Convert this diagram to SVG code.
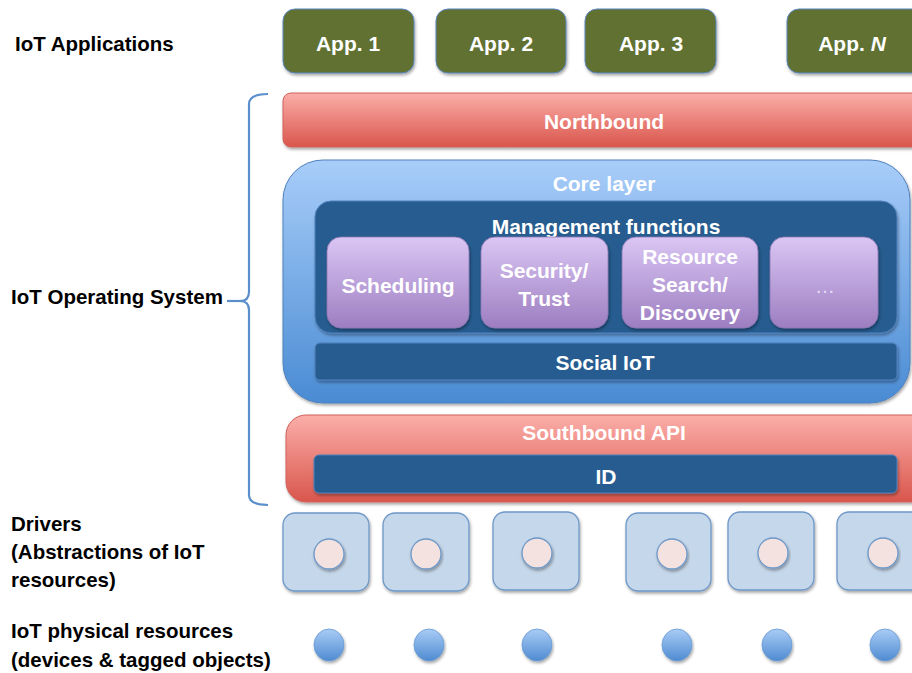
<svg xmlns="http://www.w3.org/2000/svg" width="912" height="673" viewBox="0 0 912 673">
<defs>
<linearGradient id="gRed" x1="0" y1="0" x2="0" y2="1"><stop offset="0" stop-color="#FBAEA9"/><stop offset="1" stop-color="#D9564C"/></linearGradient>
<linearGradient id="gCore" x1="0" y1="0" x2="0" y2="1"><stop offset="0" stop-color="#A8CDF9"/><stop offset="1" stop-color="#4A8BD3"/></linearGradient>
<linearGradient id="gPurple" x1="0" y1="0" x2="0" y2="1"><stop offset="0" stop-color="#DAC6F4"/><stop offset="1" stop-color="#9D7EC1"/></linearGradient>
<linearGradient id="gDot" x1="0" y1="0" x2="0" y2="1"><stop offset="0" stop-color="#A9CCF6"/><stop offset="1" stop-color="#4F8BD1"/></linearGradient>
<filter id="sh" x="-10%" y="-10%" width="120%" height="130%"><feDropShadow dx="1" dy="2" stdDeviation="1.5" flood-color="#000" flood-opacity="0.35"/></filter>
<style>
.lbl{font-family:"Liberation Sans",Arial,sans-serif;font-weight:bold;font-size:20.5px;fill:#000}
.w{font-family:"Liberation Sans",Arial,sans-serif;font-weight:bold;font-size:21px;fill:#fff;text-anchor:middle}
.app{fill:#617133;stroke:#5A86BE;stroke-width:1;filter:url(#sh)}
.red{fill:url(#gRed);stroke:#D0625B;stroke-width:1;filter:url(#sh)}
.core{fill:url(#gCore);stroke:#4F81BD;stroke-width:1;filter:url(#sh)}
.dark{fill:#265C8F;stroke:#4F81BD;stroke-width:1;filter:url(#sh)}
.pur{fill:url(#gPurple);stroke:#8E76B3;stroke-width:0.8;filter:url(#sh)}
.drv{fill:#C5D7EA;stroke:#6E98C8;stroke-width:1.3;filter:url(#sh)}
.in{fill:#F3E2E0;stroke:#6E98C8;stroke-width:1.3;filter:url(#sh)}
.dot{fill:url(#gDot);stroke:#6A9AD0;stroke-width:0.8;filter:url(#sh)}
</style>
</defs>
<rect width="912" height="673" fill="#fff"/>

<g id="labels">
<text class="lbl" x="15" y="51">IoT Applications</text>
<text class="lbl" x="11" y="304">IoT Operating System</text>
<text class="lbl" x="11" y="531">Drivers</text>
<text class="lbl" x="11" y="559">(Abstractions of IoT</text>
<text class="lbl" x="11" y="587">resources)</text>
<text class="lbl" x="11" y="638">IoT physical resources</text>
<text class="lbl" x="11" y="667">(devices &amp; tagged objects)</text>
</g>

<g id="connectors" fill="none" stroke="#5B8FCB" stroke-width="2.2">
<path d="M268,94 Q249,94 249,104 L249,292 Q249,301 240,301 Q249,301 249,310 L249,495 Q249,505 268,505"/>
<line x1="227" y1="301" x2="241" y2="301"/>
</g>

<g id="app1"><rect class="app" x="283" y="9" width="131" height="64" rx="12"/><text class="w" x="348" y="51">App. 1</text></g>
<g id="app2"><rect class="app" x="436" y="9" width="130" height="64" rx="12"/><text class="w" x="501" y="51">App. 2</text></g>
<g id="app3"><rect class="app" x="585" y="9" width="131" height="64" rx="12"/><text class="w" x="651" y="51">App. 3</text></g>
<g id="appN"><rect class="app" x="787" y="9" width="140" height="64" rx="12"/><text class="w" x="852" y="51">App. <tspan font-style="italic">N</tspan></text></g>

<g id="northbound"><rect class="red" x="283" y="93" width="650" height="54" rx="8"/><text class="w" x="604" y="129">Northbound</text></g>

<g id="core"><rect class="core" x="283" y="160" width="627" height="243" rx="40"/><text class="w" x="604" y="191">Core layer</text></g>

<g id="management"><rect class="dark" x="315" y="201" width="582" height="132" rx="16"/><text class="w" x="606" y="234">Management functions</text></g>

<g id="scheduling"><rect class="pur" x="327" y="237" width="142" height="91" rx="14"/><text class="w" x="398" y="293">Scheduling</text></g>
<g id="security"><rect class="pur" x="481" y="237" width="127" height="91" rx="14"/><text class="w" x="544" y="278">Security/</text><text class="w" x="544" y="306">Trust</text></g>
<g id="resource"><rect class="pur" x="622" y="237" width="136" height="91" rx="14"/><text class="w" x="690" y="264">Resource</text><text class="w" x="690" y="292">Search/</text><text class="w" x="690" y="320">Discovery</text></g>
<g id="more"><rect class="pur" x="770" y="237" width="108" height="91" rx="14"/><text class="w" x="825" y="293" style="fill:#E8DCF6;font-weight:normal;font-size:20px">…</text></g>

<g id="social"><rect class="dark" x="315" y="343" width="582" height="37" rx="5"/><text class="w" x="605" y="370">Social IoT</text></g>

<g id="southbound"><rect class="red" x="286" y="415" width="646" height="87" rx="20"/><text class="w" x="604" y="440">Southbound API</text></g>
<g id="id"><rect class="dark" x="314" y="455" width="583" height="38" rx="5"/><text class="w" x="606" y="484">ID</text></g>

<g id="driver1"><rect class="drv" x="283" y="513" width="86" height="78" rx="12"/><circle class="in" cx="329" cy="554" r="15"/></g>
<g id="driver2"><rect class="drv" x="383" y="513" width="86" height="78" rx="12"/><circle class="in" cx="426" cy="554" r="15"/></g>
<g id="driver3"><rect class="drv" x="493" y="512" width="86" height="78" rx="12"/><circle class="in" cx="537" cy="553" r="15"/></g>
<g id="driver4"><rect class="drv" x="626" y="513" width="85" height="78" rx="12"/><circle class="in" cx="672" cy="554" r="15"/></g>
<g id="driver5"><rect class="drv" x="728" y="512" width="86" height="78" rx="12"/><circle class="in" cx="773" cy="553" r="15"/></g>
<g id="driver6"><rect class="drv" x="837" y="512" width="86" height="78" rx="12"/><circle class="in" cx="883" cy="553" r="15"/></g>

<g id="res1"><ellipse class="dot" cx="329" cy="645" rx="15" ry="16"/></g>
<g id="res2"><ellipse class="dot" cx="429" cy="645" rx="15" ry="16"/></g>
<g id="res3"><ellipse class="dot" cx="537" cy="645" rx="15" ry="16"/></g>
<g id="res4"><ellipse class="dot" cx="677" cy="645" rx="15" ry="16"/></g>
<g id="res5"><ellipse class="dot" cx="777" cy="645" rx="15" ry="16"/></g>
<g id="res6"><ellipse class="dot" cx="885" cy="645" rx="15" ry="16"/></g>
</svg>
